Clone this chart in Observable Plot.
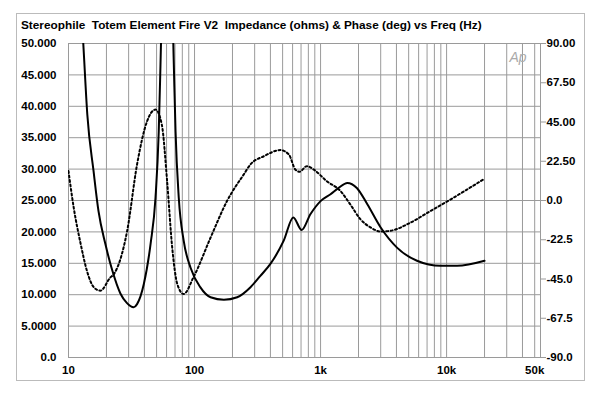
<!DOCTYPE html>
<html><head><meta charset="utf-8">
<script src="https://cdn.jsdelivr.net/npm/d3@7"></script>
<script src="https://cdn.jsdelivr.net/npm/@observablehq/plot@0.6"></script>
<style>
body{margin:0;background:#fff;}
#wrap{position:relative;width:600px;height:397px;font-family:"Liberation Sans",Arial,sans-serif;}
#border{position:absolute;left:16px;top:13px;width:569px;height:368px;border:1px solid #bbb;box-sizing:border-box;}
#title{position:absolute;left:21px;top:18px;font-weight:bold;font-size:11.8px;color:#000;white-space:nowrap;}
#chart{position:absolute;left:0;top:0;}
</style></head>
<body><div id="wrap"><div id="border"></div><div id="title">Stereophile&nbsp; Totem Element Fire V2&nbsp; Impedance (ohms) &amp; Phase (deg) vs Freq (Hz)</div><div id="chart"></div></div>
<script>
// Impedance (ohms) vs frequency (Hz)
const impFreq = [12.5,13.1,14.1,15.8,17.3,19.6,22.3,25.8,29,32.9,35,39.6,44.8,49,52,53.7,56,60,64,68.5,70.7,75,82,93,111,134,171,218,278,333,400,510,608,708,830,1000,1200,1390,1630,1940,2350,3000,4040,5820,8940,12100,20000];
const impOhms = [57,50,38.7,29.7,23.3,18.1,13.8,10.2,8.7,8.0,8.5,11.7,18.1,25.4,36,46.7,62,75,70,46.6,36,25.4,18.6,14.3,11.2,9.6,9.2,9.6,11.2,13,14.9,18.6,22.3,20.3,22.8,24.9,26,27,27.8,27,24.4,20.7,17.5,15.4,14.6,14.6,15.4];
// Phase (deg) vs frequency (Hz)
const phFreq = [10,11,12.5,14,15.9,17.9,21.5,22.9,29.2,35,42,49,55,60.6,66.5,73,82,98,134,181,246,278,355,480,560,630,680,780,880,1120,1440,1720,2070,2500,3000,3570,5160,7450,10800,14600,20000];
const phDeg = [16.9,-4.1,-25,-40.3,-49.8,-51.7,-44.1,-42.2,-17.4,20.7,45.4,52.1,43.5,11.1,-27,-47.9,-53.6,-44.1,-21.3,-0.3,15,20.7,25.4,28.9,26.4,17.8,16.5,19.7,17.8,11.1,5.4,-2.2,-10.7,-15.5,-17.8,-17.4,-12.7,-6,0.7,6.4,12.5];
// Tick labels
const ohmTicks = [0,5,10,15,20,25,30,35,40,45,50];
const ohmLabels = ["0.0","5.0000","10.000","15.000","20.000","25.000","30.000","35.000","40.000","45.000","50.000"];
const phaseTicks = [-90,-67.5,-45,-22.5,0,22.5,45,67.5,90];
const phaseLabels = ["-90.0","-67.5","-45.0","-22.5","0.0","22.50","45.00","67.50","90.00"];
const xTicks = [10,100,1000,10000,50000];
const xLabels = ["10","100","1k","10k","50k"];

const toOhm = d => (d + 90) / 180 * 50;
const impData = impFreq.map((f, i) => ({f, z: impOhms[i]}));
const phData = phFreq.map((f, i) => ({f, z: toOhm(phDeg[i])}));
const xLabelData = xTicks.map((f, i) => ({f, label: xLabels[i]}));
const gridFreqs = [];
for (const dec of [10,100,1000,10000]) for (let m = 1; m <= 9; m++) { const v = dec*m; if (v > 10 && v <= 50000) gridFreqs.push(v); }
const phaseTickOhm = phaseTicks.map(toOhm);

const chart = Plot.plot({
  width: 600, height: 397,
  marginLeft: 68, marginRight: 60, marginTop: 43, marginBottom: 40,
  x: {type: "log", domain: [10, 55600], label: null, axis: null},
  y: {domain: [0, 50], label: null},
  style: {fontFamily: '"Liberation Sans", Arial, sans-serif', fontSize: "11.5px", fontWeight: "bold", background: "transparent", color: "#000"},
  marks: [
    Plot.ruleX(gridFreqs, {stroke: "#9a9a9a", strokeWidth: 1}),
    Plot.ruleY(ohmTicks, {stroke: "#9a9a9a", strokeWidth: 1}),
    Plot.frame({stroke: "#9a9a9a"}),
    Plot.text(xLabelData, {x: "f", text: "label", frameAnchor: "bottom", dy: 16, fill: "#000", fontWeight: "bold"}),
    Plot.axisY({ticks: ohmTicks, tickFormat: d => ohmLabels[ohmTicks.indexOf(d)], tickSize: 0, tickPadding: 12, label: null, fill: "#000"}),
    Plot.axisY({anchor: "right", ticks: phaseTickOhm, tickFormat: d => phaseLabels[phaseTickOhm.indexOf(d)], tickSize: 5, tickPadding: 1, label: null, stroke: "#9a9a9a", fill: "#000"}),
    Plot.line(phData, {x: "f", y: "z", stroke: "#000", strokeWidth: 2, strokeDasharray: "2,2.5", curve: "monotone-x", clip: true}),
    Plot.line(impData, {x: "f", y: "z", stroke: "#000", strokeWidth: 2, curve: "monotone-x", clip: true}),
    Plot.text(["Ap"], {frameAnchor: "top-right", dx: -14, dy: 9, fill: "#aaa", fontSize: 14, fontStyle: "italic", fontWeight: "normal"})
  ]
});
document.getElementById("chart").appendChild(chart);
</script>
</body></html>
